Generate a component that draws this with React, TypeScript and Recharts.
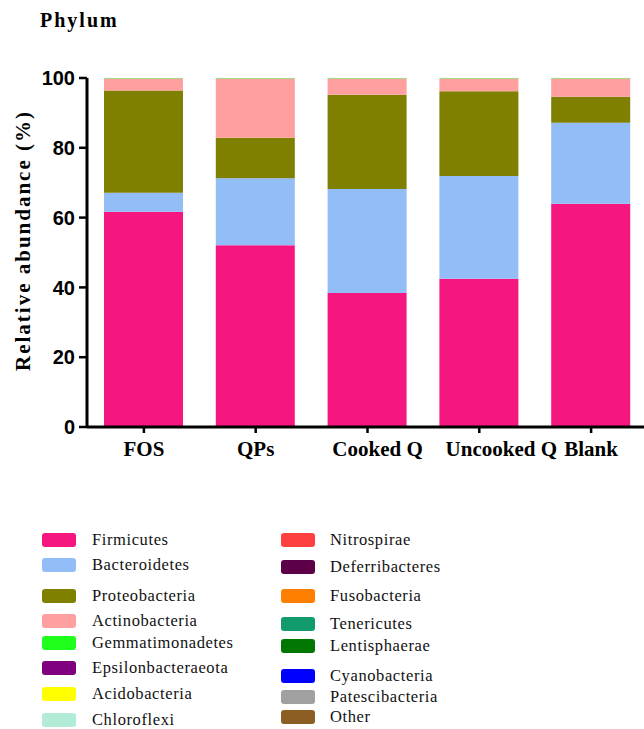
import React from 'react';
import { Bar, BarChart, XAxis, YAxis } from 'recharts';

const groups = ['FOS', 'QPs', 'Cooked Q', 'Uncooked Q', 'Blank'];

// relative abundance (%) per phylum, in the order of `groups`
const firmicutes = [61.7, 52.1, 38.4, 42.5, 64.0];
const bacteroidetes = [5.4, 19.2, 29.8, 29.4, 23.2];
const proteobacteria = [29.3, 11.6, 27.0, 24.3, 7.4];
const actinobacteria = [3.4, 16.9, 4.6, 3.6, 5.2];
const gemmatimonadetes = [0.05, 0.04, 0.05, 0.06, 0.04];
const epsilonbacteraeota = [0.03, 0.05, 0.02, 0.03, 0.04];
const acidobacteria = [0.02, 0.02, 0.03, 0.02, 0.02];
const chloroflexi = [0.03, 0.02, 0.03, 0.02, 0.03];
const nitrospirae = [0.01, 0.01, 0.01, 0.01, 0.01];
const deferribacteres = [0.01, 0.01, 0.01, 0.01, 0.01];
const fusobacteria = [0.01, 0.01, 0.01, 0.01, 0.01];
const tenericutes = [0.01, 0.01, 0.01, 0.01, 0.01];
const lentisphaerae = [0.01, 0.01, 0.01, 0.01, 0.01];
const cyanobacteria = [0.01, 0.01, 0.01, 0.01, 0.01];
const patescibacteria = [0.01, 0.01, 0.01, 0.01, 0.01];
const other = [0.01, 0.01, 0.01, 0.01, 0.01];

const yTicks = [0, 20, 40, 60, 80, 100];

const phyla: { name: string; color: string; values: number[] }[] = [
  { name: 'Firmicutes', color: '#F5177F', values: firmicutes },
  { name: 'Bacteroidetes', color: '#92BDF7', values: bacteroidetes },
  { name: 'Proteobacteria', color: '#7F7F00', values: proteobacteria },
  { name: 'Actinobacteria', color: '#FF9F9F', values: actinobacteria },
  { name: 'Gemmatimonadetes', color: '#1EFF1E', values: gemmatimonadetes },
  { name: 'Epsilonbacteraeota', color: '#7F007F', values: epsilonbacteraeota },
  { name: 'Acidobacteria', color: '#FFFF00', values: acidobacteria },
  { name: 'Chloroflexi', color: '#B2EBD6', values: chloroflexi },
  { name: 'Nitrospirae', color: '#FF4040', values: nitrospirae },
  { name: 'Deferribacteres', color: '#5C0047', values: deferribacteres },
  { name: 'Fusobacteria', color: '#FF8000', values: fusobacteria },
  { name: 'Tenericutes', color: '#119A6B', values: tenericutes },
  { name: 'Lentisphaerae', color: '#007700', values: lentisphaerae },
  { name: 'Cyanobacteria', color: '#0000FF', values: cyanobacteria },
  { name: 'Patescibacteria', color: '#A0A0A0', values: patescibacteria },
  { name: 'Other', color: '#8B5E23', values: other },
];

const data = groups.map((g, i) => {
  const row: Record<string, string | number> = { name: g };
  phyla.forEach((p) => {
    row[p.name] = p.values[i];
  });
  return row;
});

const SERIF = '"Liberation Serif", "Times New Roman", serif';
const SANS = '"Liberation Sans", Arial, sans-serif';

// legend rows: two columns of eight
const leftRows = [540, 565, 596, 621, 643, 668, 694, 720];
const rightRows = [540, 567, 596, 624, 646, 676, 697, 717];

// the two Q labels sit a little right of their ticks
const labelShift: Record<string, number> = { 'Cooked Q': 10, 'Uncooked Q': 22 };

const GroupTick = (props: any) => {
  const { x, y, payload } = props;
  const dx = labelShift[payload.value] || 0;
  return (
    <text
      x={x + dx}
      y={y}
      dy="0.71em"
      textAnchor="middle"
      fontFamily={SERIF}
      fontWeight="bold"
      fontSize={21}
      fill="#000"
    >
      {payload.value}
    </text>
  );
};

const LegendBlock = () => (
  <div style={{ position: 'absolute', left: 0, top: 0, width: 644, height: 729, pointerEvents: 'none' }}>
    {phyla.map((p, i) => {
      const left = i < 8;
      const cy = left ? leftRows[i] : rightRows[i - 8];
      const sx = left ? 42 : 281;
      return (
        <React.Fragment key={p.name}>
          <div
            style={{
              position: 'absolute',
              left: sx,
              top: cy - 7,
              width: 34,
              height: 14,
              borderRadius: 3,
              background: p.color,
            }}
          />
          <div
            style={{
              position: 'absolute',
              left: left ? 92 : 330,
              top: cy - 11,
              height: 22,
              lineHeight: '22px',
              fontFamily: SERIF,
              fontSize: 16.5,
              letterSpacing: 0.6,
              color: '#111',
              whiteSpace: 'nowrap',
            }}
          >
            {p.name}
          </div>
        </React.Fragment>
      );
    })}
  </div>
);

const YTitle = (props: any) => {
  const { x, y, height } = props.viewBox;
  const cx = x + 23;
  const cy = y + height / 2 - 12;
  return (
    <text
      x={cx}
      y={cy}
      transform={`rotate(-90, ${cx}, ${cy})`}
      textAnchor="middle"
      dominantBaseline="central"
      fontFamily={SERIF}
      fontWeight="bold"
      fontSize={21}
      letterSpacing={2}
      fill="#000"
    >
      Relative abundance (%)
    </text>
  );
};

export default function App() {
  return (
    <div style={{ position: 'absolute', left: 0, top: 0, width: 644, height: 729, overflow: 'hidden', background: '#fff' }}>
      <div
        style={{
          position: 'absolute',
          left: 40,
          top: 9,
          fontFamily: SERIF,
          fontWeight: 'bold',
          fontSize: 20,
          letterSpacing: 2,
          color: '#000',
        }}
      >
        Phylum
      </div>
      <BarChart
        width={647}
        height={729}
        data={data}
        margin={{ top: 78, right: 0, left: 0, bottom: 272 }}
        barSize={79}
      >
        <XAxis
          dataKey="name"
          height={30}
          padding={{ left: 1, right: 0 }}
          axisLine={{ stroke: '#000', strokeWidth: 3 }}
          tickLine={{ stroke: '#000', strokeWidth: 2.5 }}
          tickSize={6}
          tickMargin={8}
          interval={0}
          tick={<GroupTick />}
        />
        <YAxis
          width={87}
          domain={[0, 100]}
          ticks={yTicks}
          interval={0}
          allowDataOverflow
          axisLine={{ stroke: '#000', strokeWidth: 3 }}
          tickLine={{ stroke: '#000', strokeWidth: 2.5 }}
          tickSize={8}
          tickMargin={4}
          tick={{ fill: '#000', fontFamily: SANS, fontWeight: 'bold', fontSize: 20 }}
          label={{ content: YTitle }}
        />
        {phyla.map((p) => (
          <Bar key={p.name} dataKey={p.name} stackId="a" fill={p.color} isAnimationActive={false} />
        ))}
      </BarChart>
      <LegendBlock />
    </div>
  );
}
